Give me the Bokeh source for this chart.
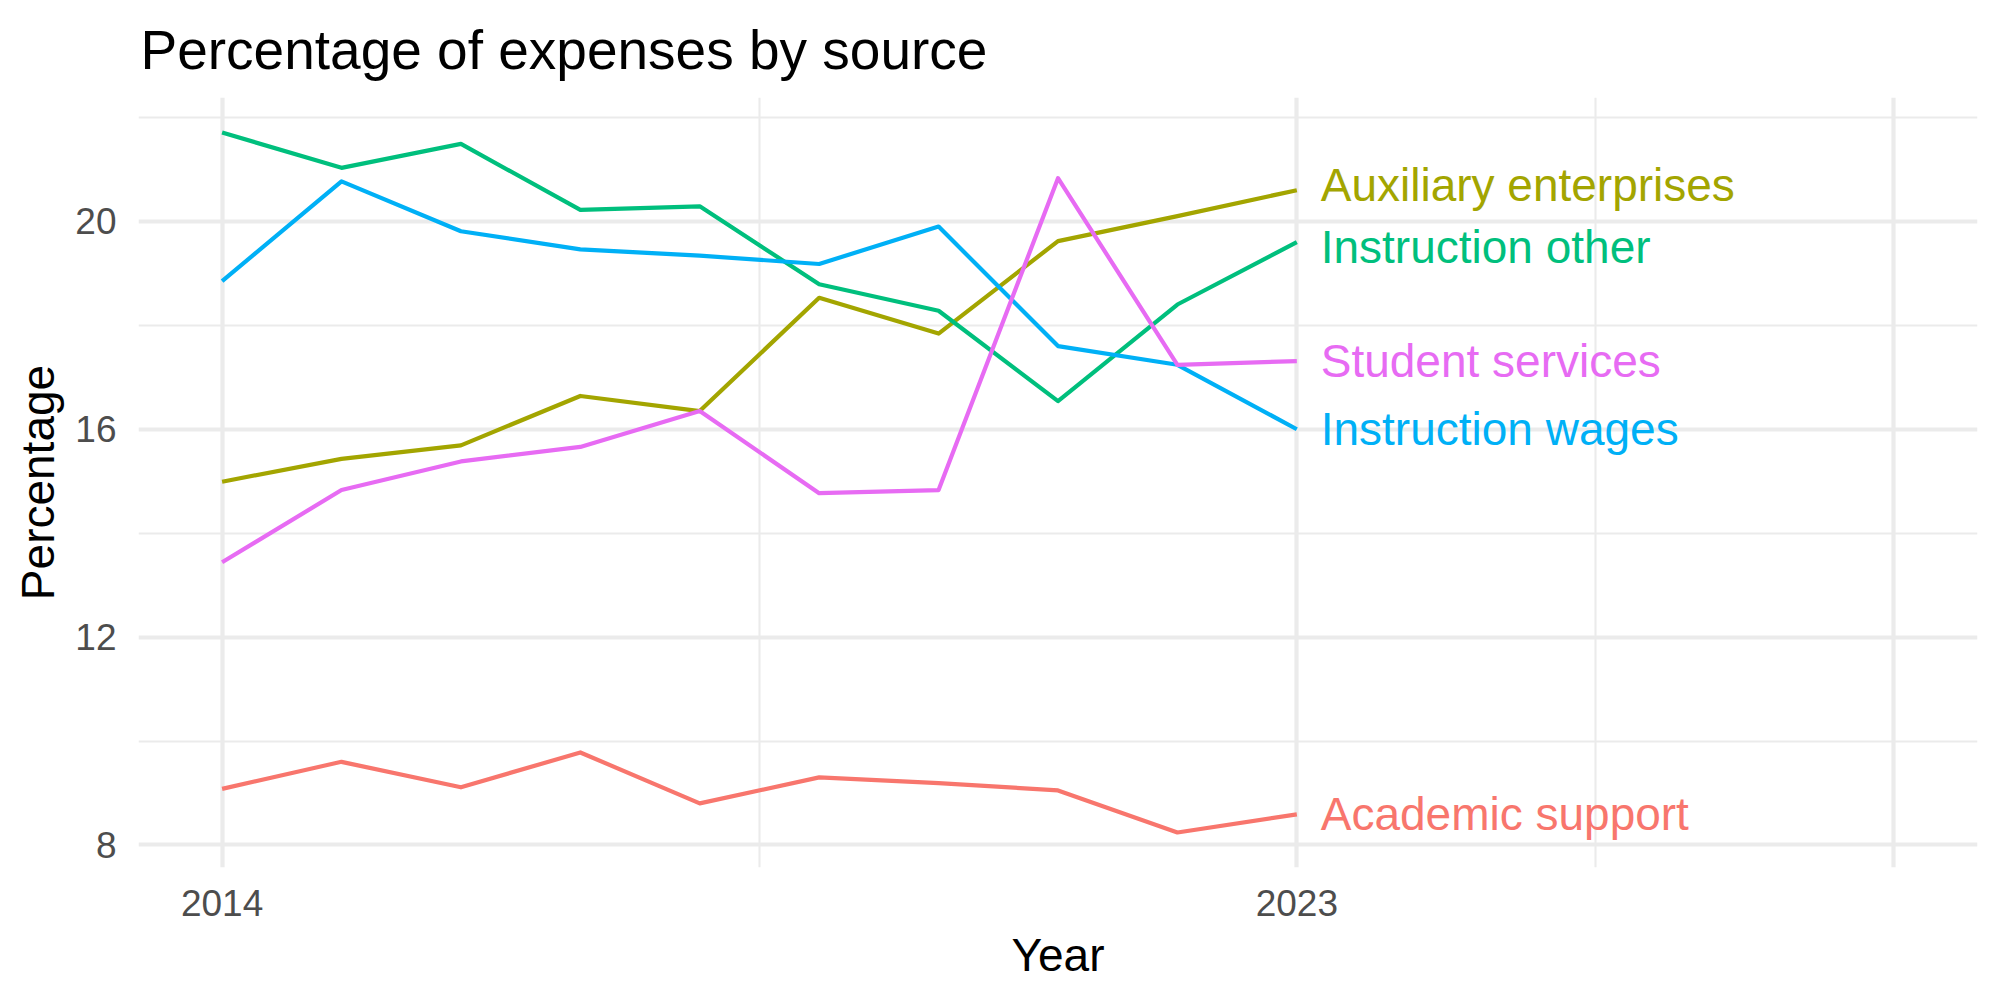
from bokeh.plotting import figure
from bokeh.models import Range1d, FixedTicker
from bokeh.core.properties import value
from bokeh.embed import file_html
from bokeh.resources import INLINE

# Share of expenses by source, 2014-2023
years = [2014, 2015, 2016, 2017, 2018, 2019, 2020, 2021, 2022, 2023]
academic_support = [9.08, 9.60, 9.11, 9.78, 8.80, 9.30, 9.19, 9.05, 8.24, 8.59]
auxiliary_enterprises = [14.99, 15.43, 15.69, 16.64, 16.35, 18.53, 17.84, 19.62, 20.10, 20.60]
instruction_other = [21.71, 21.03, 21.49, 20.22, 20.29, 18.79, 18.28, 16.54, 18.40, 19.60]
instruction_wages = [18.85, 20.77, 19.81, 19.46, 19.34, 19.18, 19.90, 17.60, 17.24, 16.00]
student_services = [13.44, 14.83, 15.38, 15.66, 16.35, 14.77, 14.83, 20.83, 17.24, 17.31]

series_names = ["Academic support", "Auxiliary enterprises", "Instruction other",
                "Instruction wages", "Student services"]
series_values = [academic_support, auxiliary_enterprises, instruction_other,
                 instruction_wages, student_services]
series_colors = ["#F8766D", "#A3A500", "#00BF7D", "#00B0F6", "#E76BF3"]

x_breaks = [2014, 2023, 2028]
x_labels = {2014: "2014", 2023: "2023", 2028: ""}
x_minor = [2018.5, 2025.5]
y_breaks = [8, 12, 16, 20]
y_minor = [10, 14, 18, 22]

FONT = "Liberation Sans"

# continuous scales with 5% expansion on each side
x_lo, x_hi = 2014, 2028
all_vals = [v for s in series_values for v in s]
y_lo, y_hi = min(all_vals), max(all_vals)
xpad = (x_hi - x_lo) * 0.05
ypad = (y_hi - y_lo) * 0.05


def spread_labels(ends, min_gap=1.2, passes=50):
    """Push end-label positions apart so neighbouring labels don't overlap."""
    order = sorted(range(len(ends)), key=lambda i: ends[i])
    pos = list(ends)
    for _ in range(passes):
        moved = False
        for a, b in zip(order, order[1:]):
            gap = pos[b] - pos[a]
            if gap < min_gap:
                shift = (min_gap - gap) / 2
                pos[a] -= shift
                pos[b] += shift
                moved = True
        if not moved:
            break
    return pos


p = figure(width=2000, height=1000, output_backend="svg", toolbar_location=None,
           x_range=Range1d(x_lo - xpad, x_hi + xpad),
           y_range=Range1d(y_lo - ypad, y_hi + ypad),
           min_border_left=138, min_border_right=23,
           min_border_top=97, min_border_bottom=133)

p.outline_line_color = None
p.background_fill_color = "white"
p.border_fill_color = "white"

# title
p.title.text = "Percentage of expenses by source"
p.title.text_font = FONT
p.title.text_font_size = "55px"
p.title.text_font_style = "normal"
p.title.text_color = "black"
p.title.vertical_align = "top"
p.title.offset = 2
p.title.standoff = 30

# axes
p.xaxis.ticker = FixedTicker(ticks=x_breaks, minor_ticks=x_minor)
p.xaxis.major_label_overrides = x_labels
p.yaxis.ticker = FixedTicker(ticks=y_breaks, minor_ticks=y_minor)
for ax in (p.xaxis, p.yaxis):
    ax.axis_line_color = None
    ax.major_tick_line_color = None
    ax.minor_tick_line_color = None
    ax.major_tick_out = 0
    ax.major_tick_in = 0
    ax.minor_tick_out = 0
    ax.minor_tick_in = 0
    ax.major_label_text_font = FONT
    ax.major_label_text_font_size = "37px"
    ax.major_label_text_color = "#4D4D4D"
    ax.axis_label_text_font = FONT
    ax.axis_label_text_font_size = "46px"
    ax.axis_label_text_font_style = "normal"
    ax.axis_label_text_color = "black"
    ax.major_label_standoff = 22

p.xaxis.axis_label = "Year"
p.yaxis.axis_label = "Percentage"
p.xaxis.axis_label_standoff = 10
p.yaxis.axis_label_standoff = 8

# grid
for g in (p.xgrid, p.ygrid):
    g.grid_line_color = "#EBEBEB"
    g.grid_line_width = 4.2
    g.minor_grid_line_color = "#EBEBEB"
    g.minor_grid_line_width = 2.1

# lines
for vals, col in zip(series_values, series_colors):
    p.line(years, vals, line_color=col, line_width=4.2, line_join="round")

# end labels, nudged apart where they would collide
label_y = spread_labels([vals[-1] for vals in series_values])
for name, ly, col in zip(series_names, label_y, series_colors):
    p.text(x=[years[-1] + 0.2], y=[ly], text=[name], text_color=col,
           text_font=value(FONT), text_font_size="46px",
           text_align="left", text_baseline="middle")

open("out.html", "w").write(file_html(p, INLINE))
